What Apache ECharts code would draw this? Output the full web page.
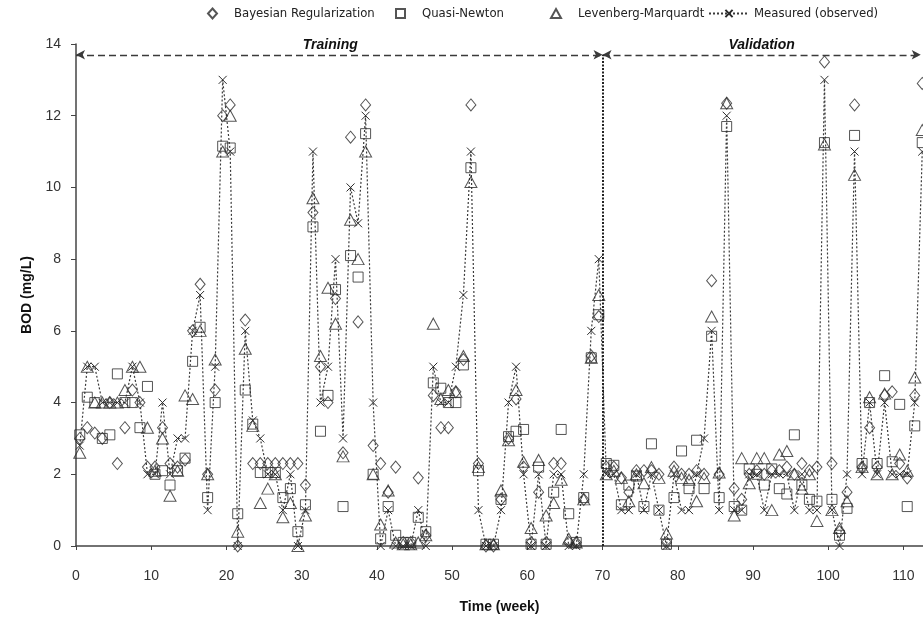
<!DOCTYPE html>
<html>
<head>
<meta charset="utf-8">
<script src="https://cdn.jsdelivr.net/npm/echarts@6/dist/echarts.min.js"></script>
<style>
  html, body { margin: 0; padding: 0; background: #ffffff; }
  #chart { width: 923px; height: 619px; }
</style>
</head>
<body>
<div id="chart"></div>
<script>
// Sampling times (week) for the whole record
const weeks = [
  0.5, 1.5, 2.5, 3.5, 4.5, 5.5, 6.5, 7.5, 8.5, 9.5,
  10.5, 11.5, 12.5, 13.5, 14.5, 15.5, 16.5, 17.5, 18.5, 19.5,
  20.5, 21.5, 22.5, 23.5, 24.5, 25.5, 26.5, 27.5, 28.5, 29.5,
  30.5, 31.5, 32.5, 33.5, 34.5, 35.5, 36.5, 37.5, 38.5, 39.5,
  40.5, 41.5, 42.5, 43.5, 44.5, 45.5, 46.5, 47.5, 48.5, 49.5,
  50.5, 51.5, 52.5, 53.5, 54.5, 55.5, 56.5, 57.5, 58.5, 59.5,
  60.5, 61.5, 62.5, 63.5, 64.5, 65.5, 66.5, 67.5, 68.5, 69.5,
  70.5, 71.5, 72.5, 73.5, 74.5, 75.5, 76.5, 77.5, 78.5, 79.5,
  80.5, 81.5, 82.5, 83.5, 84.5, 85.5, 86.5, 87.5, 88.5, 89.5,
  90.5, 91.5, 92.5, 93.5, 94.5, 95.5, 96.5, 97.5, 98.5, 99.5,
  100.5, 101.5, 102.5, 103.5, 104.5, 105.5, 106.5, 107.5, 108.5, 109.5,
  110.5, 111.5, 112.5
];

// Observed BOD (mg/L)
const measured = [
  2.8, 5.0, 5.0, 4.0, 4.0, 4.0, 4.0, 5.0, 4.0, 2.0,
  2.0, 4.0, 2.0, 3.0, 3.0, 6.0, 7.0, 1.0, 5.0, 13.0,
  11.0, 0.0, 6.0, 3.5, 3.0, 2.0, 2.0, 1.0, 2.0, 0.0,
  1.0, 11.0, 4.0, 5.0, 8.0, 3.0, 10.0, 9.0, 12.0, 4.0,
  0.0, 1.0, 0.0, 0.0, 0.0, 1.0, 0.0, 5.0, 4.0, 4.0,
  5.0, 7.0, 11.0, 1.0, 0.0, 0.0, 1.0, 4.0, 5.0, 2.0,
  0.0, 2.0, 0.0, 2.0, 2.0, 0.0, 0.0, 2.0, 6.0, 8.0,
  2.0, 2.0, 1.0, 1.0, 2.0, 1.0, 2.0, 1.0, 0.0, 2.0,
  1.0, 1.0, 2.0, 3.0, 6.0, 1.0, 12.0, 1.0, 1.0, 2.0,
  2.0, 1.0, 2.0, 2.0, 2.0, 1.0, 2.0, 1.0, 1.0, 13.0,
  1.0, 0.0, 2.0, 11.0, 2.0, 4.0, 2.0, 4.0, 2.0, 2.0,
  2.0, 4.0, 11.0
];

// Bayesian Regularization network output
const bayesian = [
  3.0, 3.3, 3.15, 3.0, 4.0, 2.3, 3.3, 4.35, 4.0, 2.2,
  2.2, 3.3, 2.3, 2.2, 2.4, 6.0, 7.3, 2.0, 4.35, 12.0,
  12.3, 0.0, 6.3, 2.3, 2.3, 2.3, 2.3, 2.3, 2.3, 2.3,
  1.7, 9.3, 5.0, 4.0, 6.9, 2.6, 11.4, 6.25, 12.3, 2.8,
  2.3, 1.5, 2.2, 0.1, 0.1, 1.9, 0.3, 4.2, 3.3, 3.3,
  4.3, 5.2, 12.3, 2.3, 0.0, 0.0, 1.3, 3.0, 4.1, 2.2,
  0.1, 1.5, 0.1, 2.3, 2.3, 0.1, 0.1, 1.3, 5.3, 6.4,
  2.2, 2.2, 1.9, 1.5, 2.1, 2.1, 2.1, 2.0, 0.1, 2.2,
  2.0, 2.0, 2.1, 2.0, 7.4, 2.0, 12.35, 1.6, 1.3, 2.0,
  2.1, 2.0, 2.1, 2.1, 2.2, 2.0, 2.3, 2.1, 2.2, 13.5,
  2.3, 0.4, 1.5, 12.3, 2.2, 3.3, 2.2, 4.2, 4.3, 2.3,
  1.9, 4.2, 12.9
];

// Quasi-Newton network output
const quasiNewton = [
  3.1, 4.15, 4.0, 3.0, 3.1, 4.8, 4.0, 4.0, 3.3, 4.45,
  2.0, 2.1, 1.7, 2.1, 2.45, 5.15, 6.1, 1.35, 4.0, 11.15,
  11.1, 0.9, 4.35, 3.4, 2.05, 2.05, 2.05, 1.35, 1.6, 0.4,
  1.15, 8.9, 3.2, 4.2, 7.15, 1.1, 8.1, 7.5, 11.5, 2.0,
  0.2, 1.1, 0.3, 0.1, 0.1, 0.8, 0.4, 4.55, 4.4, 4.0,
  4.0, 5.05, 10.55, 2.1, 0.05, 0.05, 1.3, 3.05, 3.2, 3.25,
  0.05, 2.2, 0.05, 1.5, 3.25, 0.9, 0.1, 1.35, 5.25, 6.45,
  2.3, 2.25, 1.15, 1.7, 1.95, 1.1, 2.85, 1.0, 0.05, 1.35,
  2.65, 1.6, 2.95, 1.6, 5.85, 1.35, 11.7, 1.1, 1.0, 2.15,
  2.0, 1.7, 2.15, 1.6, 1.45, 3.1, 1.7, 1.3, 1.25, 11.25,
  1.3, 0.3, 1.05, 11.45, 2.3, 4.0, 2.3, 4.75, 2.35, 3.95,
  1.1, 3.35, 11.25
];

// Levenberg-Marquardt network output
const levenberg = [
  2.6, 5.0, 4.0, 4.0, 4.0, 4.0, 4.35, 5.0, 5.0, 3.3,
  2.1, 3.0, 1.4, 2.1, 4.2, 4.1, 6.0, 2.0, 5.2, 11.0,
  12.0, 0.4, 5.5, 3.35, 1.2, 1.6, 2.0, 0.8, 1.2, 0.0,
  0.85, 9.7, 5.3, 7.2, 6.2, 2.5, 9.1, 8.0, 11.0, 2.0,
  0.6, 1.55, 0.1, 0.05, 0.05, 0.1, 0.3, 6.2, 4.1, 4.35,
  4.3, 5.3, 10.15, 2.2, 0.05, 0.05, 1.55, 2.95, 4.35, 2.35,
  0.5, 2.4, 0.85, 1.2, 1.85, 0.2, 0.1, 1.3, 5.25, 7.0,
  2.0, 2.1, 1.9, 1.25, 2.0, 1.75, 2.2, 1.9, 0.35, 2.1,
  1.9, 1.85, 1.25, 1.9, 6.4, 2.05, 12.35, 0.85, 2.45, 1.75,
  2.45, 2.45, 1.0, 2.55, 2.65, 2.0, 1.6, 2.0, 0.7, 11.2,
  1.0, 0.5, 1.25, 10.35, 2.2, 4.15, 2.0, 4.25, 2.0, 2.55,
  2.1, 4.7, 11.6
];

// Period boundaries and axis ticks
const trainingEnd = 70;
const recordEnd = 112.3;
const periodLevel = 13.7;
const xTickValues = [0, 10, 20, 30, 40, 50, 60, 70, 80, 90, 100, 110];

const ink = '#2b2b2b';
const labelFont = "'Liberation Sans', Arial, sans-serif";
const narrowFont = "'Liberation Sans Narrow', 'Arial Narrow', 'DejaVu Sans Condensed', sans-serif";

const pairs = values => weeks.map((w, i) => [w, values[i]]);

const hollow = { color: 'rgba(0,0,0,0)', borderColor: ink, borderWidth: 1 };

// one legend block per entry so each key sits where it belongs in the header row
const legendEntry = (name, left, width, height, gap) => ({
  data: [name], left: left, top: 2,
  itemWidth: width, itemHeight: height,
  textStyle: { fontFamily: narrowFont, fontSize: 13, color: '#222', padding: [0, 0, 0, gap] },
  selectedMode: false
});

const chart = echarts.init(document.getElementById('chart'), null, { renderer: 'canvas' });

chart.setOption({
  animation: false,
  backgroundColor: '#ffffff',
  textStyle: { fontFamily: labelFont },
  grid: { left: 76, top: 44, width: 847, height: 504.5, containLabel: false },
  legend: [
    legendEntry('Bayesian Regularization', 202, 9, 10, 12),
    legendEntry('Quasi-Newton', 390, 9, 9, 12),
    legendEntry('Levenberg-Marquardt', 545, 10, 9, 12),
    legendEntry('Measured (observed)', 703, 40, 9, 0)
  ],
  xAxis: {
    type: 'value',
    min: 0, max: 112.6, interval: 10,
    name: 'Time (week)', nameLocation: 'middle', nameGap: 54,
    nameTextStyle: { fontWeight: 'bold', fontSize: 14, color: '#111', fontFamily: labelFont },
    axisLine: { lineStyle: { color: '#444', width: 1.5 } },
    axisTick: { show: true, length: 4, customValues: xTickValues, lineStyle: { color: '#444' } },
    axisLabel: { customValues: xTickValues, fontSize: 14, color: '#333', margin: 23 },
    splitLine: { show: false }
  },
  yAxis: {
    type: 'value',
    min: 0, max: 14, interval: 2,
    name: 'BOD (mg/L)', nameLocation: 'middle', nameGap: 33, nameRotate: 90,
    nameTextStyle: { fontWeight: 'bold', fontSize: 14, color: '#111', fontFamily: labelFont },
    axisLine: { show: true, lineStyle: { color: '#444', width: 1.5 } },
    axisTick: { show: true, length: 5, lineStyle: { color: '#444' } },
    axisLabel: { fontSize: 14, color: '#333', margin: 15 },
    splitLine: { show: false }
  },
  series: [
    {
      name: 'Measured (observed)',
      type: 'line',
      data: pairs(measured),
      symbol: 'path://M0,0L10,10M10,0L0,10',
      symbolSize: 8,
      showAllSymbol: true,
      itemStyle: { color: 'rgba(0,0,0,0)', borderColor: ink, borderWidth: 1 },
      lineStyle: { color: '#3a3a3a', width: 1.2, type: [2, 2] },
      z: 2,
      markLine: {
        silent: true,
        symbol: ['arrow', 'arrow'],
        symbolSize: [7, 9],
        lineStyle: { color: '#3a3a3a', width: 1.4, type: [7, 4] },
        label: {
          show: true, position: 'insideMiddleTop', distance: 3,
          fontFamily: labelFont, fontSize: 14, fontWeight: 'bold', fontStyle: 'italic', color: '#111'
        },
        data: [
          [
            { coord: [0, periodLevel], name: 'Training', label: { formatter: 'Training', offset: [-9, 0] } },
            { coord: [trainingEnd, periodLevel] }
          ],
          [
            { coord: [trainingEnd, periodLevel], name: 'Validation', label: { formatter: 'Validation' } },
            { coord: [recordEnd, periodLevel] }
          ],
          [
            { coord: [trainingEnd, 0], symbol: 'none', label: { show: false },
              lineStyle: { color: '#222', width: 2, type: [2, 1.5] } },
            { coord: [trainingEnd, periodLevel], symbol: 'none' }
          ]
        ]
      }
    },
    {
      name: 'Bayesian Regularization',
      type: 'scatter',
      data: pairs(bayesian),
      symbol: 'diamond',
      symbolSize: [10, 12],
      itemStyle: hollow,
      z: 3
    },
    {
      name: 'Quasi-Newton',
      type: 'scatter',
      data: pairs(quasiNewton),
      symbol: 'rect',
      symbolSize: 10,
      itemStyle: hollow,
      z: 3
    },
    {
      name: 'Levenberg-Marquardt',
      type: 'scatter',
      data: pairs(levenberg),
      symbol: 'triangle',
      symbolSize: [12, 11],
      itemStyle: hollow,
      z: 3
    }
  ]
});
</script>
</body>
</html>
